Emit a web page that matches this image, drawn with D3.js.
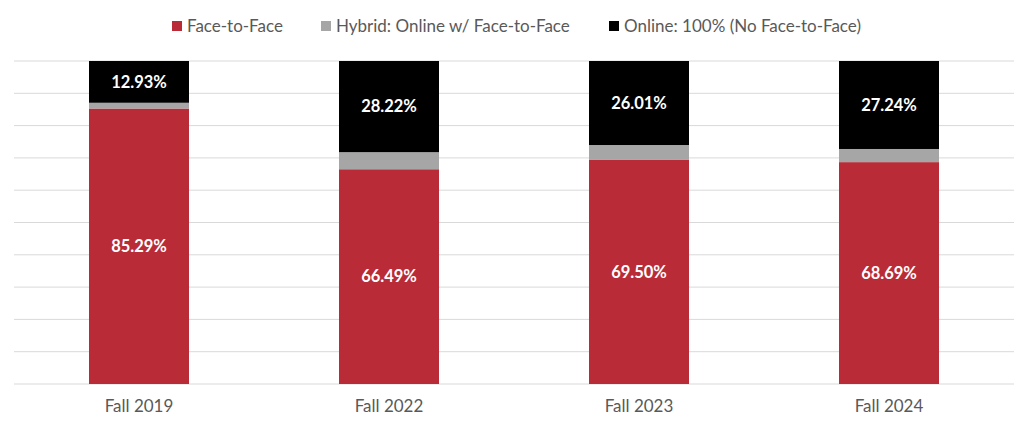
<!DOCTYPE html>
<html>
<head>
<meta charset="utf-8">
<script src="https://cdn.jsdelivr.net/npm/d3@7"></script>
<style>
  body { margin: 0; background: #fff; }
  text { font-family: Lato, "Open Sans", sans-serif; }
</style>
</head>
<body>
<script>
var width = 1024,
    height = 425;

var categories = ["Fall 2019", "Fall 2022", "Fall 2023", "Fall 2024"];
var series = ["Face-to-Face", "Hybrid: Online w/ Face-to-Face", "Online: 100% (No Face-to-Face)"];
var faceToFace = [85.29, 66.49, 69.50, 68.69];
var hybrid = [1.78, 5.29, 4.49, 4.07];
var online = [12.93, 28.22, 26.01, 27.24];
var colors = ["#b92b36", "#a6a6a6", "#000000"];

var margin = {top: 61, right: 10, bottom: 41, left: 14};

var svg = d3.select("body").append("svg")
    .attr("width", width)
    .attr("height", height);

var x = d3.scaleBand()
    .domain(categories)
    .range([margin.left, width - margin.right])
    .paddingInner(0.6)
    .paddingOuter(0.3);

var y = d3.scaleLinear()
    .domain([0, 100])
    .range([height - margin.bottom, margin.top]);

/* gridlines every 10% */
svg.append("g")
    .selectAll("line")
    .data(d3.range(0, 101, 10))
    .enter().append("line")
    .attr("x1", margin.left)
    .attr("x2", width - margin.right)
    .attr("y1", function (d) { return y(d) })
    .attr("y2", function (d) { return y(d) })
    .attr("stroke", "#d9d9d9")
    .attr("stroke-width", 1);

/* stack the three series */
var rows = categories.map(function (c, i) {
    return {cat: c, "Face-to-Face": faceToFace[i],
        "Hybrid: Online w/ Face-to-Face": hybrid[i],
        "Online: 100% (No Face-to-Face)": online[i]}
});
var stacked = d3.stack().keys(series)(rows);

var layer = svg.selectAll(".layer")
    .data(stacked)
    .enter().append("g")
    .attr("class", "layer")
    .attr("fill", function (d, i) { return colors[i] });

layer.selectAll("rect")
    .data(function (d) { return d })
    .enter().append("rect")
    .attr("x", function (d) { return x(d.data.cat) })
    .attr("width", x.bandwidth())
    .attr("y", function (d) { return y(d[1]) })
    .attr("height", function (d) { return y(d[0]) - y(d[1]) });

/* value labels on red and black segments */
[0, 2].forEach(function (k) {
    svg.append("g")
        .selectAll("text")
        .data(stacked[k])
        .enter().append("text")
        .attr("x", function (d) { return x(d.data.cat) + x.bandwidth() / 2 })
        .attr("y", function (d) { return (y(d[0]) + y(d[1])) / 2 })
        .attr("dy", "0.35em")
        .attr("text-anchor", "middle")
        .attr("fill", "#fff")
        .attr("font-weight", "bold")
        .attr("font-size", 16.5)
        .text(function (d) { return (d[1] - d[0]).toFixed(2) + "%" })
});

/* category axis */
var xAxis = svg.append("g")
    .attr("transform", "translate(0," + (height - margin.bottom) + ")")
    .call(d3.axisBottom(x).tickSize(0).tickPadding(16));
xAxis.select(".domain").remove();
xAxis.selectAll("text")
    .attr("fill", "#595959")
    .attr("font-size", 17)
    .style("font-family", "Lato, 'Open Sans', sans-serif");

/* legend */
var legendX = [172, 321, 609];
var legend = svg.selectAll(".legend")
    .data(series)
    .enter().append("g")
    .attr("class", "legend")
    .attr("transform", function (d, i) { return "translate(" + legendX[i] + ",26)" });

legend.append("rect")
    .attr("x", 0)
    .attr("y", -5)
    .attr("width", 10)
    .attr("height", 10)
    .attr("fill", function (d, i) { return colors[i] });

legend.append("text")
    .attr("x", 15)
    .attr("dy", "0.35em")
    .attr("fill", "#595959")
    .attr("font-size", 17)
    .text(function (d) { return d });
</script>
</body>
</html>
